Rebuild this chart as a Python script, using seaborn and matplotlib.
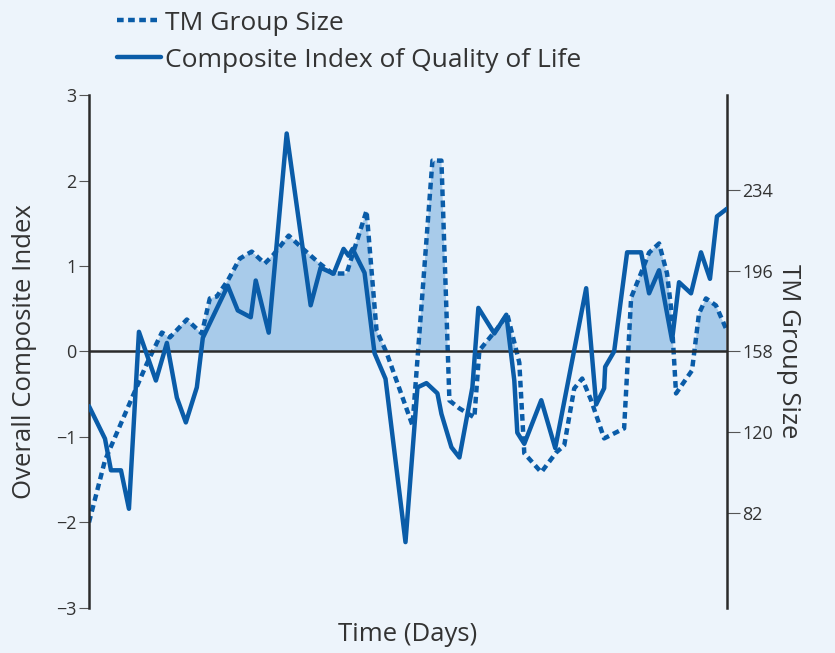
import numpy as np
import matplotlib
matplotlib.use("Agg")
import matplotlib.pyplot as plt
from matplotlib.lines import Line2D
import seaborn as sns

# Composite Index of Quality of Life (left axis)
ci_days = [0, 3.2, 4.4, 6.4, 8, 10, 13.4, 15.6, 17.6, 19.4, 21.6, 22.8, 27.8, 29.8,
           32.4, 33.4, 36, 39.6, 44.4, 46.4, 49, 51, 52, 52.8, 55.2, 57.2, 59.4, 63.4,
           65.8, 67.6, 69.8, 70.6, 72.6, 74.2, 76.8, 78, 81.2, 83.6, 85.2, 85.8, 87.2,
           90.6, 93.4, 99.6, 101.6, 103.2, 103.4, 105.2, 107.8, 110.6, 112.2, 114.2,
           116.8, 118.2, 120.6, 122.6, 124.4, 125.8, 127.8]
ci_vals = [-0.64, -1.02, -1.39, -1.39, -1.84, 0.23, -0.34, 0.10, -0.54, -0.83, -0.42,
           0.16, 0.77, 0.48, 0.40, 0.83, 0.22, 2.55, 0.54, 0.98, 0.91, 1.20, 1.12, 1.20,
           0.92, -0.02, -0.32, -2.23, -0.42, -0.37, -0.49, -0.73, -1.12, -1.24, -0.42,
           0.51, 0.21, 0.43, -0.34, -0.95, -1.08, -0.57, -1.13, 0.74, -0.62, -0.43,
           -0.18, 0.00, 1.16, 1.16, 0.68, 0.95, 0.13, 0.81, 0.68, 1.16, 0.85, 1.58, 1.67]

# TM Group Size (right axis)
tm_days = [0, 3.2, 11.6, 14.6, 16.2, 19.6, 22.6, 24.2, 25.6, 27.8, 30.2, 32.6, 35.2,
           36.8, 40, 42.8, 46.2, 48.8, 51.6, 55.6, 57.6, 59.6, 64.8, 68.8, 70.6, 72.2,
           74.2, 77.2, 78.2, 81.8, 83.8, 86.2, 87.2, 90.6, 93.6, 95.2, 97.2, 98.8,
           100.6, 103.2, 107.2, 108.6, 110.8, 112.2, 114.2, 115.8, 116.6, 117.6,
           120.8, 122.2, 123.6, 125.6, 127.6]
tm_vals = [77.8, 106.9, 152.4, 166.9, 164.6, 173.0, 166.4, 182.9, 183.8, 191.3, 201.6,
           204.9, 199.3, 203.0, 212.4, 206.3, 199.3, 194.6, 194.6, 224.1, 167.9, 157.5,
           123.3, 247.6, 247.6, 135.0, 131.3, 127.0, 158.5, 168.8, 175.4, 152.8, 110.2,
           101.3, 110.6, 113.9, 140.6, 145.3, 135.0, 117.2, 121.9, 183.3, 196.0, 204.4,
           208.7, 194.6, 178.6, 138.3, 149.1, 175.8, 182.9, 179.6, 168.8]

tm_ticks = [82, 120, 158, 196, 234]

BG = "#edf4fb"
BLUE = "#0a5ca8"
FILL = "#a8cbea"
INK = "#333333"

sns.set_style("white", {"axes.facecolor": BG, "figure.facecolor": BG})
plt.rcParams["font.family"] = ["Open Sans", "DejaVu Sans"]
plt.rcParams["text.color"] = INK
plt.rcParams["axes.labelcolor"] = INK
plt.rcParams["xtick.color"] = INK
plt.rcParams["ytick.color"] = INK

fig = plt.figure(figsize=(8.35, 6.53), dpi=100)
ax = fig.add_axes([0.1066, 0.069, 0.764, 0.7855])
ax2 = ax.twinx()
ax.set_zorder(ax2.get_zorder() + 1)
ax.patch.set_visible(False)

tm_d = np.array(tm_days)
tm_v = np.array(tm_vals)
ax2.fill_between(tm_d, tm_v, 158, where=tm_v > 158, interpolate=True,
                 color=FILL, lw=0)
sns.lineplot(x=tm_days, y=tm_vals, ax=ax2, color=BLUE, lw=3.2, estimator=None,
             sort=False, linestyle=(0, (1.5, 1.0)), dash_capstyle="butt")

ax.axhline(0, color="#2b2b2b", lw=1.8, zorder=1)
sns.lineplot(x=ci_days, y=ci_vals, ax=ax, color=BLUE, lw=3.2, estimator=None,
             sort=False, zorder=3)

ax.set_xlim(0, 127.8)
ax.set_ylim(-3, 3)
span = 3 * 38 / 0.947
ax2.set_ylim(158 - span, 158 + span)
ax2.set_yticks(tm_ticks)
ax.set_yticks(range(-3, 4))
ax.set_xticks([])

for s in ["top", "right", "bottom"]:
    ax.spines[s].set_visible(False)
for s in ["top", "left", "bottom"]:
    ax2.spines[s].set_visible(False)
ax.spines["left"].set_color("#2b2b2b")
ax.spines["left"].set_linewidth(1.8)
ax2.spines["right"].set_color("#2b2b2b")
ax2.spines["right"].set_linewidth(1.8)

ax.tick_params(axis="y", length=7, width=0.8, color="#555555", labelsize=13, pad=2)
ax2.tick_params(axis="y", length=9, width=0.8, color="#555555", labelsize=13, pad=2)

ax.set_xlabel("Time (Days)", fontsize=18.5, labelpad=10)
ax.set_ylabel("Overall Composite Index", fontsize=18.5, labelpad=14)
ax2.set_ylabel("TM Group Size", fontsize=18.5, rotation=270, labelpad=20)

handles = [Line2D([], [], color=BLUE, lw=3.2, linestyle=(0, (1.5, 1.0)), dash_capstyle="butt"),
           Line2D([], [], color=BLUE, lw=3.2)]
fig.legend(handles, ["TM Group Size", "Composite Index of Quality of Life"],
           loc="upper left", bbox_to_anchor=(0.112, 1.02), frameon=False,
           fontsize=19, handlelength=1.65, handletextpad=0.15, labelspacing=0.45)

fig.savefig("out.png", dpi=100, facecolor=BG)
